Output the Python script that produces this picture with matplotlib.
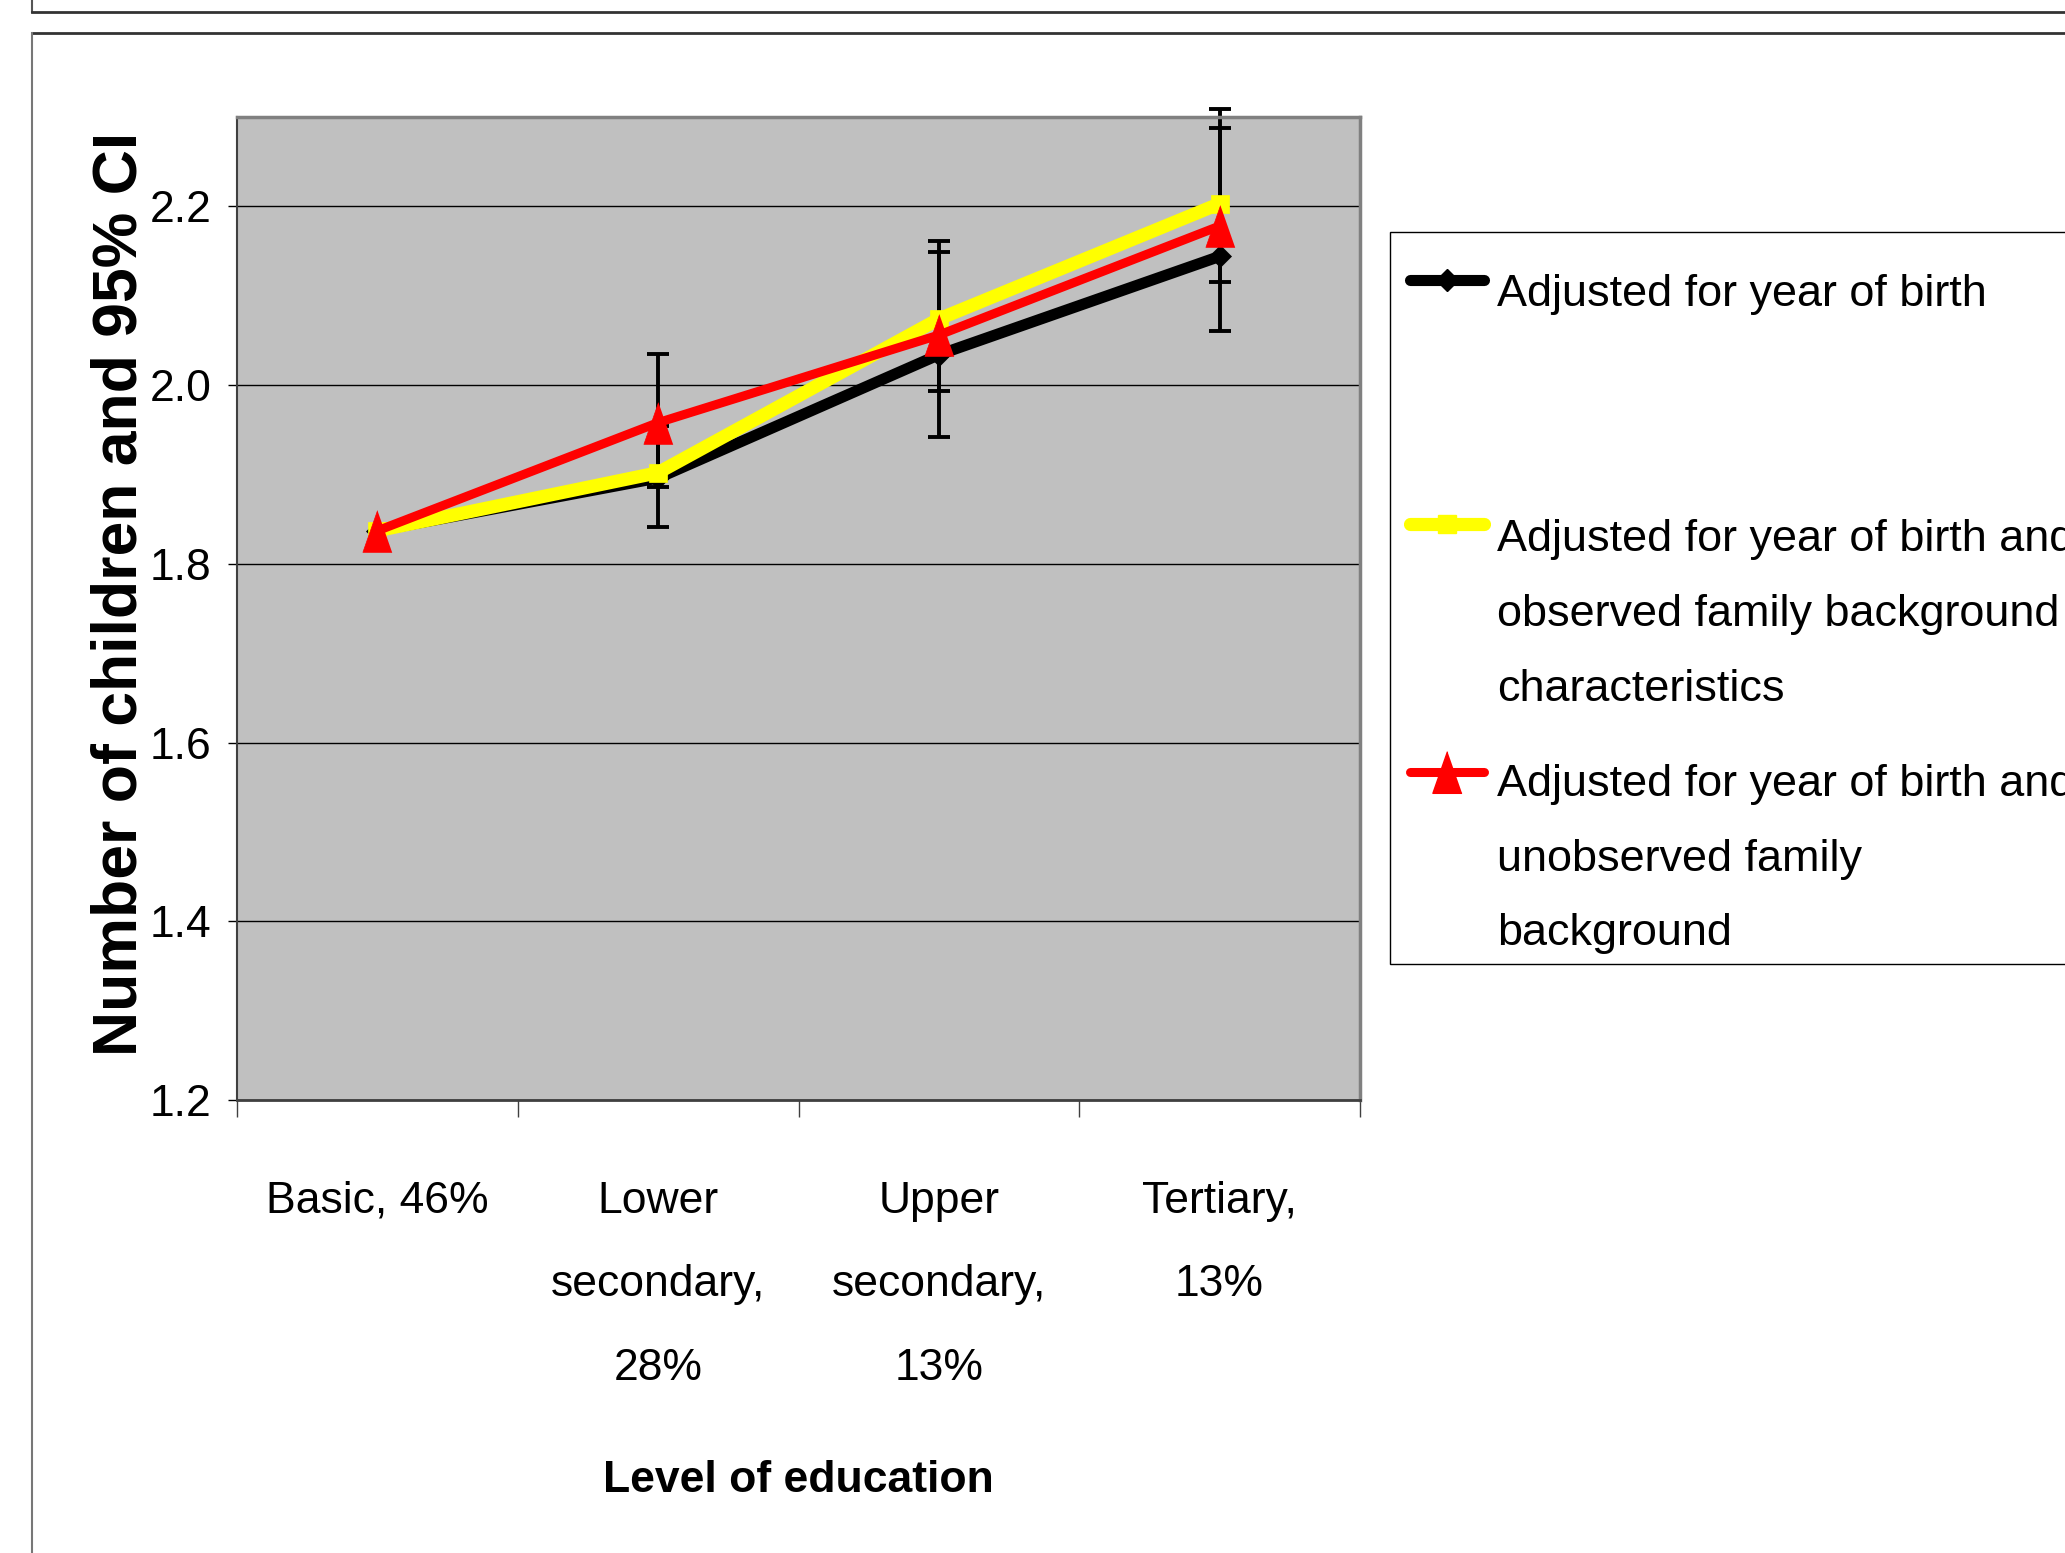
import numpy as np
import matplotlib
matplotlib.use("Agg")
import matplotlib.pyplot as plt
from matplotlib import font_manager as fm
from matplotlib.lines import Line2D
from matplotlib.patches import Rectangle

# ---------------- data ----------------
categories = ["Basic, 46%", "Lower\nsecondary,\n28%", "Upper\nsecondary,\n13%", "Tertiary,\n13%"]
series_names = [
    ["Adjusted for year of birth"],
    ["Adjusted for year of birth and", "observed family background", "characteristics"],
    ["Adjusted for year of birth and", "unobserved family", "background"],
]
yob = [1.837, 1.896, 2.034, 2.144]
yob_observed = [1.837, 1.902, 2.074, 2.203]
yob_unobserved = [1.837, 1.958, 2.056, 2.178]
obs_ci_low = [np.nan, 1.841, 1.993, 2.115]
obs_ci_high = [np.nan, 1.954, 2.149, 2.288]
unobs_ci_low = [np.nan, 1.886, 1.942, 2.061]
unobs_ci_high = [np.nan, 2.035, 2.161, 2.309]
y_ticks = [1.2, 1.4, 1.6, 1.8, 2.0, 2.2]

# ---------------- fonts ----------------
names = {f.name for f in fm.fontManager.ttflist}
narrow = "Liberation Sans Narrow" in names
base = "Liberation Sans"
nfam = "Liberation Sans Narrow" if narrow else base
xt_size = 39 if narrow else 32
xl_size = 39 if narrow else 32
lg_size = 39 if narrow else 32.4
plt.rcParams["font.family"] = [base, "DejaVu Sans"]

W, H = 2065, 1553
fig = plt.figure(figsize=(W / 100, H / 100), dpi=100)
fig.patch.set_facecolor("white")

ax = fig.add_axes([237 / W, 1 - 1100 / H, (1360 - 237) / W, (1100 - 117) / H])
ax.set_facecolor("#C0C0C0")

x = np.arange(len(categories))
styles = [
    dict(color="black", lw=8, marker="D", ms=11, zorder=3),
    dict(color="#FFFF00", lw=9.5, marker="s", ms=13, zorder=4),
    dict(color="#FF0000", lw=6.5, marker=[(0, 1), (-0.7, -1), (0.7, -1)], ms=30, zorder=5),
]
values = [yob, yob_observed, yob_unobserved]
for vals, st in zip(values, styles):
    ax.plot(x, vals, color=st["color"], lw=st["lw"], marker=st["marker"], ms=st["ms"],
            mfc=st["color"], mec=st["color"], mew=0.5, zorder=st["zorder"],
            solid_joinstyle="round", solid_capstyle="round")

for vals, lo, hi in [(yob_observed, obs_ci_low, obs_ci_high), (yob_unobserved, unobs_ci_low, unobs_ci_high)]:
    v = np.array(vals); lo = np.array(lo); hi = np.array(hi)
    eb = ax.errorbar(x, v, yerr=[v - lo, hi - v], fmt="none", ecolor="black",
                     elinewidth=2.8, capsize=8, capthick=2.8, zorder=2.5)
    for art in eb.lines[1]:
        art.set_clip_on(False)
    for art in eb.lines[2]:
        art.set_clip_on(False)

ax.set_xlim(-0.5, len(categories) - 0.5)
ax.set_ylim(1.2, 2.3)
ax.set_yticks(y_ticks)
ax.set_yticklabels([f"{t:.1f}" for t in y_ticks], fontsize=32)
ax.yaxis.grid(True, color="black", lw=1.0)
ax.set_axisbelow(True)
ax.tick_params(axis="y", direction="out", length=6.5, width=1, pad=12)

ax.set_xticks(x)
ax.set_xticklabels(categories, fontsize=xt_size, family=[nfam, "DejaVu Sans"])
ax.set_xticks(np.arange(-0.5, len(categories), 1.0), minor=True)
ax.tick_params(axis="x", which="major", length=0, pad=58)
ax.tick_params(axis="x", which="minor", direction="out", length=12, width=1, color="#404040")
ls = 1.9 if narrow else 2.34
for lbl in ax.get_xticklabels():
    lbl.set_linespacing(ls)
    lbl.set_verticalalignment("top")

for s in ["top", "right"]:
    ax.spines[s].set_color("#808080")
    ax.spines[s].set_linewidth(2.5)
ax.spines["left"].set_color("#404040")
ax.spines["left"].set_linewidth(1.5)
ax.spines["bottom"].set_color("#404040")
ax.spines["bottom"].set_linewidth(2)

ax.set_xlabel("Level of education", fontsize=xl_size, fontweight="bold", family=[nfam, "DejaVu Sans"])
ax.xaxis.set_label_coords(0.5, -0.366)
ax.xaxis.label.set_verticalalignment("top")
ax.set_ylabel("Number of children and 95% CI", fontsize=45, fontweight="bold")
ax.yaxis.set_label_coords(-0.078, 0.515)

# ---------------- outer frames ----------------
fx = 32 / W
fig.add_artist(Line2D([fx, fx], [1, 1 - 12 / H], transform=fig.transFigure, color="#555555", lw=1.5))
fig.add_artist(Line2D([fx, 1], [1 - 12 / H, 1 - 12 / H], transform=fig.transFigure, color="#333333", lw=2))
fig.add_artist(Line2D([fx, 1], [1 - 33 / H, 1 - 33 / H], transform=fig.transFigure, color="#333333", lw=2))
fig.add_artist(Line2D([fx, fx], [1 - 33 / H, 0], transform=fig.transFigure, color="#777777", lw=1.5))

# ---------------- legend ----------------
lx0, ly_top, ly_bot = 1390 / W, 1 - 232 / H, 1 - 964 / H
fig.add_artist(Rectangle((lx0, ly_bot), 0.5, ly_top - ly_bot, transform=fig.transFigure,
                         facecolor="white", edgecolor="black", lw=1, zorder=1))
handle_y = [1 - 280 / H, 1 - 524 / H, 1 - 772 / H]
baselines = [[1 - 306 / H], [1 - 551 / H, 1 - 626 / H, 1 - 701 / H], [1 - 796 / H, 1 - 871 / H, 1 - 945 / H]]
hx0, hx1, tx = 1410 / W, 1484 / W, 1497 / W
for st, hy, lines, bls in zip(styles, handle_y, series_names, baselines):
    fig.add_artist(Line2D([hx0, hx1], [hy, hy], transform=fig.transFigure, color=st["color"],
                          lw=st["lw"], solid_capstyle="round", zorder=3))
    fig.add_artist(Line2D([(hx0 + hx1) / 2], [hy], transform=fig.transFigure, marker=st["marker"],
                          ms=st["ms"], mfc=st["color"], mec=st["color"], lw=0, zorder=4))
    for line, bl in zip(lines, bls):
        fig.text(tx, bl, line, va="baseline", ha="left", fontsize=lg_size,
                 family=[nfam, "DejaVu Sans"], zorder=5)

fig.savefig("out.png", dpi=100, facecolor="white")
